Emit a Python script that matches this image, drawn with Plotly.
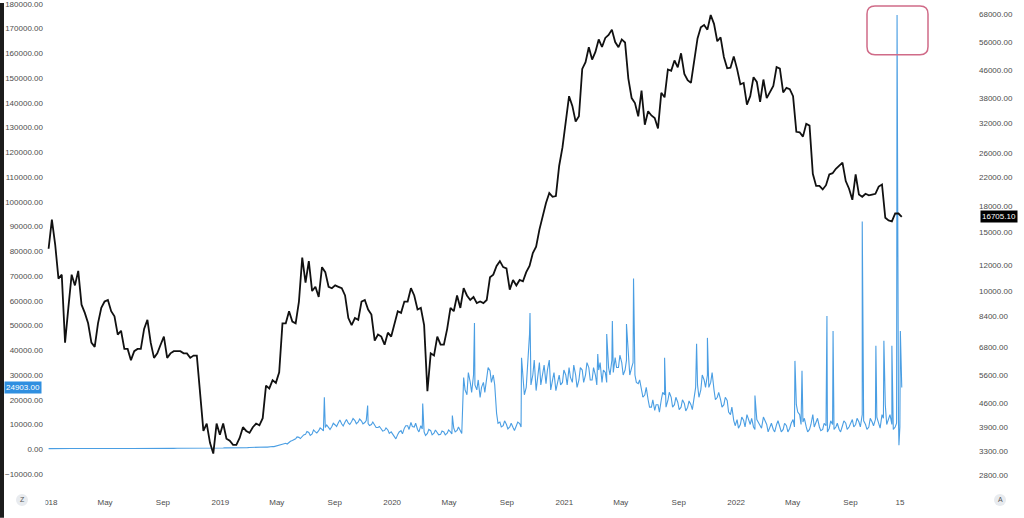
import math
import pandas as pd
import plotly.graph_objects as go

# ---------------- data ----------------
# weekly price (right axis, log scale); each year starts on its first Monday
price_2018 = [13400, 16400, 13800, 10900, 11200, 7000, 8900, 11200, 10400, 11500,
              9100, 8600, 8000, 7000, 6800, 8000, 8900, 9300, 9400, 8700,
              8400, 7400, 7600, 6700, 6700, 6200, 6600, 6700, 6700, 7700,
              8200, 7000, 6300, 6500, 6900, 7300, 6300, 6500, 6600, 6600,
              6600, 6500, 6500, 6300, 6400, 6400, 4800, 3800, 4000, 3500,
              3250, 4000, 3700]
price_2019 = [4000, 3600, 3550, 3450, 3450, 3620, 3900, 3800, 3750, 3900,
              4000, 3950, 4150, 5200, 5100, 5400, 5300, 5700, 8000, 8000,
              8700, 8100, 8000, 9300, 12600, 10600, 12300, 10000, 10300, 9600,
              11800, 11400, 10300, 10200, 10400, 10300, 10200, 9700, 8300, 7900,
              8300, 8200, 9300, 9400, 8800, 8500, 7100, 7400, 7300, 6900,
              7500, 7300]
price_2020 = [8000, 8700, 8600, 9300, 9300, 10200, 9700, 8800, 8900, 7900,
              5000, 6500, 6400, 7300, 6900, 6900, 7700, 8900, 8700, 9700,
              8900, 10200, 9700, 9400, 9600, 9200, 9300, 9200, 9400, 11000,
              11200, 11900, 12300, 11800, 11700, 10100, 10800, 10400, 10800, 10700,
              11400, 11900, 13000, 13600, 15300, 16800, 18400, 19700, 19200, 19300,
              23800, 27000]
price_2021 = [31900, 38500, 36000, 32300, 33500, 46500, 48700, 54000, 49600, 52300,
              57000, 54100, 57600, 58800, 61000, 56000, 54000, 57000, 55800, 43500,
              38000, 36700, 33500, 40000, 31600, 34700, 33700, 33100, 30800, 39400,
              38200, 46300, 45900, 49300, 47000, 51800, 44900, 43000, 42200, 49200,
              57400, 62000, 63000, 61000, 67500, 63500, 56300, 57800, 50500, 46700,
              46900, 50700]
price_2022 = [46500, 41800, 42200, 36300, 38500, 43900, 42500, 37000, 43200, 38000,
              39700, 41300, 47100, 46600, 39500, 40800, 40400, 38500, 30100, 30000,
              29100, 31800, 31400, 22500, 20700, 20700, 20200, 20800, 22400, 22600,
              23300, 23800, 24300, 21400, 20300, 18800, 22400, 19500, 19200, 19600,
              19400, 19500, 19600, 20600, 20900, 16600, 16300, 16200, 17100, 17100,
              16705.10]

# weekly blue indicator (left axis), Mondays
blue_2018 = [250, 300, 280, 320, 300, 260, 280, 300, 320, 300,
             280, 300, 310, 290, 270, 300, 330, 310, 290, 280,
             300, 270, 260, 280, 300, 320, 300, 290, 310, 330,
             300, 280, 270, 290, 300, 320, 340, 330, 350, 370,
             360, 380, 400, 390, 410, 420, 450, 430, 470, 500,
             480, 520, 500]
blue_2019 = [500, 550, 600, 520, 580, 620, 600, 650, 700, 680, 720, 750,
             800, 900, 1000, 1100, 1300, 1600, 2000, 2400, 2800,
             3500, 4200, 4800, 5200, 6000, 6800, 6200, 7000, 7500,
             8000, 8800, 8500, 9200, 9800, 10800, 10200, 11000, 10500,
             11200, 11600, 11000, 11400, 10800, 10400, 10000, 9500,
             8800, 8200, 7600, 7800, 7000]
blue_2020 = [5000, 6000, 7500, 8500, 9500, 10800, 9000, 8000,
             9500, 7000, 6400, 7500, 6500, 6800, 6000, 7000, 6500,
             7000, 8500, 7600, 7200, 29000, 22000, 27000, 30000, 24000,
             20900, 27000, 29000, 31700, 30000, 14500, 11000, 9500, 10000,
             9000, 8800, 9500, 10400, 30000, 25000, 46600, 30000,
             23700, 35000, 30000, 26500, 36000, 28000, 23700, 30000, 27000]
blue_2021 = [30000, 33000, 27000, 30000, 28000, 32000, 30000, 33000,
             28000, 30000, 32000, 27000, 31000, 33000, 36000, 37000, 33000,
             35000, 32000, 38000, 33000, 30000, 26500, 24000, 22000, 20000,
             17000, 15700, 18000, 20000, 22000, 19700, 21000, 18000, 19000,
             17000, 18500, 16900, 18000, 22000, 26000, 24000, 28000,
             30000, 27000, 24000, 21000, 20000, 18000, 19700, 14000, 11600]
blue_2022 = [12000, 10000, 11600, 14000, 10000, 9000, 12000, 10000, 13000,
             10000, 9000, 8000, 10000, 9000, 8000, 9500, 8500,
             12000, 18000, 14000, 11000, 9000, 8000, 14000, 11000, 9000,
             8000, 9500, 8500, 10000, 9000, 8000, 9500, 10500, 9000,
             12000, 10000, 11000, 14000, 10000, 9000, 11000, 12000, 10000,
             14000, 18000, 12000, 10000, 9000, 12000, 24903]

# mid-week (Thursday) readings of the blue indicator's noisy band
blue_mid_2019 = [560, 520, 640, 560, 640, 580, 700, 640, 740, 660, 780, 720,
                 950, 850, 1200, 1050, 1500, 1800, 2300, 2100, 3200,
                 3800, 5000, 4300, 5800, 7200, 5600, 7800, 6600,
                 8600, 7400, 9800, 8000, 10500, 9200, 11800, 9400, 12000,
                 10000, 12400, 10300, 12200, 10200, 11600, 9600, 11000, 8800,
                 9200, 7300, 8600, 6400]
blue_mid_2020 = [4200, 7000, 6200, 9500, 8000, 9200, 10500, 7000,
                 8200, 5600, 8000, 5800, 7800, 5800, 7400, 5800, 7800,
                 6200, 7000, 9000, 6400, 24000, 31000, 23000, 26000, 28000,
                 25000, 23000, 33000, 27000, 26000, 10500, 9000, 11500, 8200,
                 10500, 7600, 11000, 9000, 22000, 33000, 26000, 36000,
                 29000, 26000, 34000, 32000, 24000, 31000, 27000, 26000, 32000]
blue_mid_2021 = [26000, 29000, 34000, 25000, 33000, 27000, 35000, 28000,
                 33000, 26000, 35000, 32000, 27000, 30000, 31000, 33000, 38000,
                 30000, 36000, 30000, 35000, 27000, 28000, 21000, 25000, 17000,
                 20000, 18000, 15000, 23000, 17000, 23000, 17000, 21000, 16000,
                 20000, 15500, 19500, 16000, 25000, 21000, 30000, 25000,
                 25000, 31000, 20000, 23000, 17000, 21000, 15000, 17000, 9500]
blue_mid_2022 = [8500, 13000, 9000, 12000, 12500, 8000, 11000, 8500,
                 11500, 7000, 10500, 7000, 11500, 7000, 10500, 7000, 10500,
                 9000, 15000, 10000, 12500, 7000, 10000, 9000, 12500, 7500,
                 10500, 7000, 11500, 8000, 10500, 7000, 11500, 8000,
                 10500, 9000, 12500, 9000, 11500, 8000, 12500, 9500, 13000,
                 8500, 12500, 10000, 14000, 8000, 10500, 9000]

# single-day spikes of the blue indicator
spike_dates = ["2019-08-10", "2019-11-10", "2020-03-06", "2020-05-08", "2020-06-24",
               "2020-10-02", "2020-10-20", "2021-03-13", "2021-04-01", "2021-04-13",
               "2021-05-13", "2021-05-28", "2021-08-02", "2021-10-09", "2021-11-01",
               "2022-02-10", "2022-05-06", "2022-05-21", "2022-07-13", "2022-07-26",
               "2022-09-26", "2022-10-25", "2022-11-11", "2022-11-28", "2022-12-09",
               "2022-12-13", "2022-12-16"]
spike_values = [21000, 17700, 18500, 13600, 51000,
                37000, 55000, 38500, 46600, 51800,
                50600, 69000, 37000, 42600, 45000,
                21700, 35700, 31700, 53800, 47800,
                92000, 41800, 43800, 41800, 175500,
                1600, 47800]

year_starts = ["2018-01-01", "2019-01-07", "2020-01-06", "2021-01-04", "2022-01-03"]
mid_starts = ["2019-01-10", "2020-01-09", "2021-01-07", "2022-01-06"]

xtick_dates = ["2018-01-01", "2018-05-01", "2018-09-01", "2019-01-01", "2019-05-01",
               "2019-09-01", "2020-01-01", "2020-05-01", "2020-09-01", "2021-01-01",
               "2021-05-01", "2021-09-01", "2022-01-01", "2022-05-01", "2022-09-01",
               "2022-12-15"]
xtick_text = ["2018", "May", "Sep", "2019", "May", "Sep", "2020", "May", "Sep",
              "2021", "May", "Sep", "2022", "May", "Sep", "15"]
left_ticks = [-10000, 0, 10000, 20000, 30000, 40000, 50000, 60000, 70000, 80000,
              90000, 100000, 110000, 120000, 130000, 140000, 150000, 160000,
              170000, 180000]
right_ticks = [2800, 3300, 3900, 4600, 5600, 6800, 8400, 10000, 12000, 15000,
               18000, 22000, 26000, 32000, 38000, 46000, 56000, 68000]

# ---------------- assemble series ----------------
def weekly(start, vals):
    return pd.date_range(start, periods=len(vals), freq="7D")

price_years = [price_2018, price_2019, price_2020, price_2021, price_2022]
blue_years = [blue_2018, blue_2019, blue_2020, blue_2021, blue_2022]
blue_mids = [blue_mid_2019, blue_mid_2020, blue_mid_2021, blue_mid_2022]

p_x, p_y = [], []
for s, v in zip(year_starts, price_years):
    p_x += list(weekly(s, v))
    p_y += v

b_pts = []
for s, v in zip(year_starts, blue_years):
    b_pts += list(zip(weekly(s, v), v))
for s, v in zip(mid_starts, blue_mids):
    b_pts += list(zip(weekly(s, v), v))
b_pts += list(zip(pd.to_datetime(spike_dates), spike_values))
b_pts.sort(key=lambda t: t[0])
b_x = [t[0] for t in b_pts]
b_y = [t[1] for t in b_pts]

# ---------------- layout geometry ----------------
W, H = 1024, 518
ML, MR, MT, MB = 44, 46, 0, 30
PW, PH = W - ML - MR, H - MT - MB


def px(xp):
    return (xp - ML) / PW


def py(yp):
    return (PH + MT - yp) / PH


FONT = "Liberation Sans"
TCOL = "#4d4d4d"

fig = go.Figure()
fig.add_trace(go.Scatter(x=b_x, y=b_y, mode="lines", yaxis="y",
                         line=dict(color="#4a9ee3", width=1.1),
                         hoverinfo="skip", showlegend=False))
fig.add_trace(go.Scatter(x=p_x, y=p_y, mode="lines", yaxis="y2",
                         line=dict(color="#111111", width=1.8),
                         hoverinfo="skip", showlegend=False))

shapes = [
    # dark strip at the far left
    dict(type="rect", xref="paper", yref="paper", x0=px(0), x1=px(4),
         y0=py(H), y1=py(0), fillcolor="#1c1c1c", line=dict(width=0), layer="above"),
    # white mask under the left price scale (cuts the first time label)
    dict(type="rect", xref="paper", yref="paper", x0=px(29), x1=px(45.5),
         y0=py(510), y1=py(490), fillcolor="white", line=dict(width=0), layer="above"),
    # bottom buttons
    dict(type="circle", xref="paper", yref="paper", x0=px(16), x1=px(28),
         y0=py(506), y1=py(494), fillcolor="#e8ebef", line=dict(width=0), layer="above"),
    dict(type="circle", xref="paper", yref="paper", x0=px(994), x1=px(1006),
         y0=py(506), y1=py(494), fillcolor="#e8ebef", line=dict(width=0), layer="above"),
]
# red rounded highlight box
x0, x1, yt, yb, r = 867, 928, 3, 52, 8
path = (f"M {px(x0 + r)},{py(yt)} L {px(x1 - r)},{py(yt)} "
        f"Q {px(x1)},{py(yt)} {px(x1)},{py(yt + r)} "
        f"L {px(x1)},{py(yb - r)} Q {px(x1)},{py(yb)} {px(x1 - r)},{py(yb)} "
        f"L {px(x0 + r)},{py(yb)} Q {px(x0)},{py(yb)} {px(x0)},{py(yb - r)} "
        f"L {px(x0)},{py(yt + r)} Q {px(x0)},{py(yt)} {px(x0 + r)},{py(yt)} Z")
shapes.append(dict(type="path", xref="paper", yref="paper", path=path,
                   line=dict(color="#d06b88", width=1.5), layer="above"))

annotations = [
    dict(xref="paper", yref="y", x=px(42), y=blue_2022[-1], xanchor="right",
         yanchor="middle", text=f"{blue_2022[-1]:.2f}", showarrow=False,
         bgcolor="#2f8fe0", font=dict(family=FONT, size=8, color="white"), borderpad=1),
    dict(xref="paper", yref="y2", x=px(980), y=math.log10(price_2022[-1]), xanchor="left",
         yanchor="middle", text=f"{price_2022[-1]:.2f}", showarrow=False,
         bgcolor="#000000", font=dict(family=FONT, size=8, color="white"), borderpad=1),
    dict(xref="paper", yref="paper", x=px(22), y=py(500), xanchor="center",
         yanchor="middle", text="Z", showarrow=False,
         font=dict(family=FONT, size=7, color="#555555")),
    dict(xref="paper", yref="paper", x=px(1000), y=py(500), xanchor="center",
         yanchor="middle", text="A", showarrow=False,
         font=dict(family=FONT, size=7, color="#555555")),
]

fig.update_layout(
    width=W, height=H,
    margin=dict(l=ML, r=MR, t=MT, b=MB),
    paper_bgcolor="white", plot_bgcolor="white",
    showlegend=False,
    font=dict(family=FONT, size=8, color=TCOL),
    xaxis=dict(type="date", range=["2017-12-22 06:00", "2023-05-30"],
               tickvals=xtick_dates, ticktext=xtick_text,
               ticks="outside", ticklen=6, tickcolor="rgba(0,0,0,0)",
               showgrid=False, zeroline=False, showline=False,
               tickfont=dict(family=FONT, size=8, color=TCOL)),
    yaxis=dict(range=[-15663, 180320], tickvals=left_ticks, tickformat=".2f",
               showgrid=False, zeroline=False, showline=False, ticks="",
               ticklabeloverflow="allow",
               tickfont=dict(family=FONT, size=8, color=TCOL)),
    yaxis2=dict(type="log", range=[3.4084, 4.8654], overlaying="y", side="right",
                tickvals=right_ticks, tickformat=".2f",
                showgrid=False, zeroline=False, showline=False, ticks="",
                ticklabeloverflow="allow",
                tickfont=dict(family=FONT, size=8, color=TCOL)),
    shapes=shapes,
    annotations=annotations,
)

fig.write_html("out.html",
               config={"displayModeBar": False},
               post_script="document.body.style.margin='0';"
                           "document.body.style.overflow='hidden';")
